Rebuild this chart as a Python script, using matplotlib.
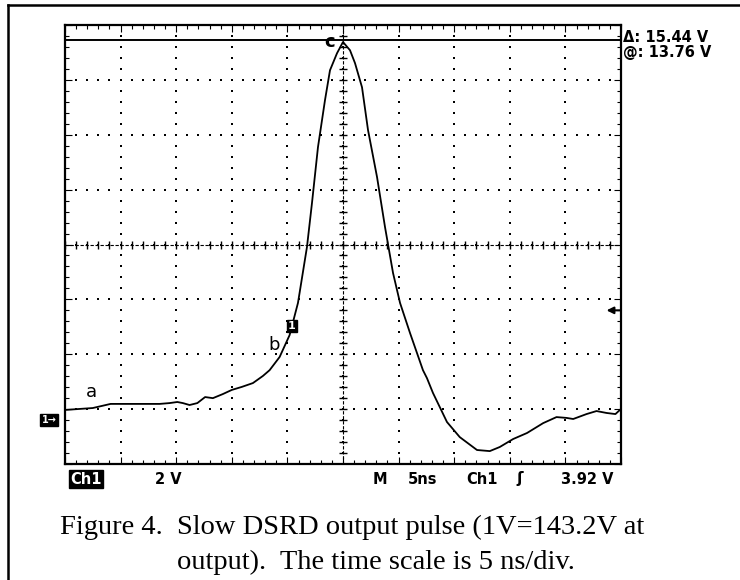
import numpy as np
import matplotlib.pyplot as plt

# scope trace (time in ns, 5 ns/div; volts, 2 V/div, relative to ground marker)
t_ns = [-25.0, -22.5, -20.9, -16.5, -15.6, -14.9, -14.4, -13.8, -13.1, -12.4, -11.7,
        -10.8, -10.0, -9.1, -8.1, -7.2, -6.6, -5.7, -4.8, -4.05, -3.24, -2.79, -2.25,
        -1.62, -1.17, -0.54, 0.0, 0.63, 1.08, 1.71, 2.25, 3.06, 3.78, 4.50, 5.13, 6.03, 7.19,
        7.55, 8.09, 9.35, 10.5, 12.05, 13.2, 14.1, 15.3, 16.55, 18.0, 19.2, 20.1, 20.7,
        21.9, 22.8, 23.7, 24.5, 24.9]
volts = [0.29, 0.36, 0.51, 0.51, 0.54, 0.58, 0.54, 0.47, 0.54, 0.76, 0.72,
         0.87, 1.02, 1.13, 1.27, 1.53, 1.74, 2.22, 3.02, 4.19, 6.23, 7.83, 9.87,
         11.58, 12.67, 13.29, 13.70, 13.40, 12.93, 12.05, 10.49, 8.78, 6.95, 5.28, 4.19, 3.09, 1.74,
         1.45, 0.91, -0.15, -0.70, -1.17, -1.21, -1.06, -0.77, -0.55, -0.19, 0.03, 0.00, -0.04,
         0.14, 0.25, 0.18, 0.14, 0.29]

ns_per_div = 5
v_per_div = 2
ground_div = 0.84          # ground marker position above bottom of screen (div)
cursor_v = 13.76
trigger_v = 3.92

W, H = 740, 580
def fx(x):
    return x / W
def fy(y):
    return 1 - y / H

fig = plt.figure(figsize=(7.4, 5.8), dpi=100)

# outer frame of the figure box
fig.add_artist(plt.Line2D([fx(8), fx(8)], [fy(5), 0], color='black', lw=1.8))
fig.add_artist(plt.Line2D([fx(8), 1], [fy(5), fy(5)], color='black', lw=1.8))

ax = fig.add_axes([fx(65), fy(464), (621 - 65) / W, (464 - 25) / H])
x0, x1 = -5 * ns_per_div, 5 * ns_per_div
y0 = -ground_div * v_per_div
y1 = y0 + 8 * v_per_div
ax.set_xlim(x0, x1)
ax.set_ylim(y0, y1)

# graticule dots
xs_major = np.arange(x0, x1 + 0.01, ns_per_div)
ys_major = np.arange(y0, y1 + 0.01, v_per_div)
xs_fine = np.arange(x0, x1 + 0.01, ns_per_div / 5)
ys_fine = np.arange(y0, y1 + 0.01, v_per_div / 5)
for yv in ys_major[1:-1]:
    ax.scatter(xs_fine, np.full_like(xs_fine, yv), s=1.8, c='black', marker='s', lw=0)
for xv in xs_major[1:-1]:
    ax.scatter(np.full_like(ys_fine, xv), ys_fine, s=1.8, c='black', marker='s', lw=0)

# center crosshair with tick marks
yc = y0 + 4 * v_per_div
ax.axhline(yc, color='black', lw=0.8, dashes=(3, 1.5))
ax.axvline(0, color='black', lw=0.8, dashes=(3, 1.5))
ax.plot(xs_fine, np.full_like(xs_fine, yc), ls='none', marker='|', ms=6, mew=1.0, color='black')
ax.plot(np.zeros_like(ys_fine), ys_fine, ls='none', marker='_', ms=6, mew=1.0, color='black')

# frame ticks
ax.set_xticks(xs_major)
ax.set_yticks(ys_major)
ax.set_xticks(xs_fine, minor=True)
ax.set_yticks(ys_fine, minor=True)
ax.tick_params(which='both', direction='in', top=True, right=True,
               labelbottom=False, labelleft=False, width=0.8)
ax.tick_params(which='major', length=5)
ax.tick_params(which='minor', length=3)
for sp in ax.spines.values():
    sp.set_linewidth(1.6)

# cursor and trace
ax.axhline(cursor_v, color='black', lw=1.4)
ax.plot(t_ns, volts, color='black', lw=1.3)

# labels on trace
ax.text(-1.2, 13.7, 'c', fontsize=13, ha='center', va='center', fontweight='bold')
ax.text(-22.6, 0.95, 'a', fontsize=13, ha='center', va='center')
ax.text(-6.2, 2.65, 'b', fontsize=13, ha='center', va='center')
ax.text(-4.6, 3.35, '1', fontsize=8, color='white', ha='center', va='center', fontweight='bold',
        bbox=dict(boxstyle='square,pad=0.12', fc='black', ec='black'))

# trigger level arrow on right edge
ax.annotate('', xy=(23.7, trigger_v), xytext=(25.0, trigger_v),
            arrowprops=dict(arrowstyle='-|>', color='black', lw=1.5, mutation_scale=10,
                            shrinkA=0, shrinkB=0))

# ground marker left of screen
fig.text(fx(49), fy(420), '1→', fontsize=7, color='white', ha='center', va='center',
         fontweight='bold', bbox=dict(boxstyle='square,pad=0.15', fc='black', ec='black'))

# readouts next to the cursor line
fig.text(fx(623), fy(38), 'Δ: 15.44 V', fontsize=10.5, fontweight='bold', ha='left', va='center')
fig.text(fx(623), fy(53), '@: 13.76 V', fontsize=10.5, fontweight='bold', ha='left', va='center')

fs_bot = 10.5
fig.text(fx(70), fy(479), 'Ch1', fontsize=fs_bot, fontweight='bold', color='white', ha='left', va='center',
         bbox=dict(boxstyle='square,pad=0.08', fc='black', ec='black'))
fig.text(fx(155), fy(479), '2 V', fontsize=fs_bot, fontweight='bold', ha='left', va='center')
fig.text(fx(373), fy(479), 'M', fontsize=fs_bot, fontweight='bold', ha='left', va='center')
fig.text(fx(408), fy(479), '5ns', fontsize=fs_bot, fontweight='bold', ha='left', va='center')
fig.text(fx(466), fy(479), 'Ch1', fontsize=fs_bot, fontweight='bold', ha='left', va='center')
fig.text(fx(516), fy(479), 'ʃ', fontsize=11, fontweight='bold', ha='left', va='center')
fig.text(fx(561), fy(479), '3.92 V', fontsize=fs_bot, fontweight='bold', ha='left', va='center')

# caption
fig.text(fx(60), fy(527), 'Figure 4.  Slow DSRD output pulse (1V=143.2V at',
         fontsize=20.5, family='Liberation Serif', ha='left', va='center')
fig.text(fx(177), fy(562), 'output).  The time scale is 5 ns/div.',
         fontsize=20.5, family='Liberation Serif', ha='left', va='center')

fig.savefig('out.png', dpi=100)
